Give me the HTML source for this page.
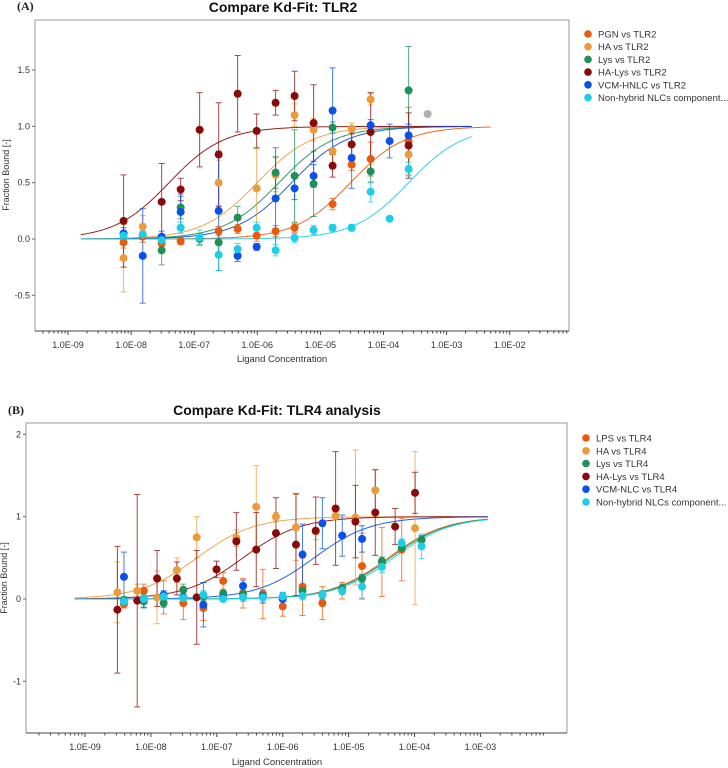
<!DOCTYPE html>
<html><head><meta charset="utf-8">
<style>
body{margin:0;background:#fff;}
svg{display:block;font-family:"Liberation Sans",sans-serif;}
</style></head>
<body>
<svg id="chart" width="728" height="768" viewBox="0 0 728 768" xmlns="http://www.w3.org/2000/svg"></svg>
<script>
// ---------- Panel A data (TLR2) ----------
const concA = [7.6e-9,1.53e-8,3.05e-8,6.1e-8,1.22e-7,2.44e-7,4.88e-7,9.77e-7,1.95e-6,3.9e-6,7.8e-6,1.56e-5,3.13e-5,6.25e-5,1.25e-4,2.5e-4];
const namesA = ["PGN vs TLR2","HA vs TLR2","Lys vs TLR2","HA-Lys vs TLR2","VCM-HNLC vs TLR2","Non-hybrid NLCs component..."];
const kdA = [3e-5,1e-6,2.2e-6,4e-8,3.5e-6,2.5e-4];
const pgnA   = [-0.03,0.02,-0.04,-0.02,null,0.07,0.09,0.03,0.07,0.10,null,0.31,0.66,0.71,null,0.87];
const haA    = [-0.17,0.11,null,null,null,0.50,null,0.45,0.57,1.10,0.97,0.78,0.98,1.24,null,0.75];
const lysA   = [null,null,-0.10,0.28,0.00,-0.03,0.19,null,0.59,0.56,0.49,0.99,null,0.60,null,1.32];
const halysA = [0.16,null,0.33,0.44,0.97,0.75,1.29,0.96,1.21,1.27,1.03,0.65,0.84,0.95,null,0.83];
const vcmA   = [0.05,-0.15,0.02,0.24,null,0.25,-0.15,-0.07,0.36,0.45,0.56,1.14,0.72,1.01,0.87,0.92];
const nonA   = [0.03,0.04,-0.01,0.10,0.01,-0.14,-0.09,0.10,-0.10,0.01,0.08,0.10,0.10,0.42,0.18,0.62];
const errA = [
 [0.05,0.05,0.05,0.03,0,0.04,0.04,0.05,0.05,0.04,0,0.05,0.05,0.15,0,0.3],
 [0.3,0.1,0,0,0,0.2,0,0.35,0.15,0.1,0.1,0.1,0.05,0.05,0,0.1],
 [0,0,0.13,0.1,0.05,0.1,0.1,0,0.14,0.41,0.29,0.05,0,0.1,0,0.39],
 [0.41,0,0.34,0.1,0.33,0.46,0.34,0.15,0.11,0.22,0.34,0.1,0.1,0.35,0,0.29],
 [0.05,0.42,0.05,0.16,0,0.53,0.05,0.03,0.45,0.1,0.1,0.38,0.27,0.05,0.15,0.1],
 [0.03,0.03,0.05,0.05,0.07,0.14,0.05,0.05,0.05,0.04,0.04,0.03,0.03,0.09,0,0.06]
];
const extraPointA = {x:5e-4, y:1.11};
const yTicksA = [1.5,1.0,0.5,0.0,-0.5];
const yTickLabelsA = ["1.5","1.0","0.5","0.0","-0.5"];
const xTicksA = [-9,-8,-7,-6,-5,-4,-3,-2];
const xTickLabelsA = ["1.0E-09","1.0E-08","1.0E-07","1.0E-06","1.0E-05","1.0E-04","1.0E-03","1.0E-02"];

// ---------- Panel B data (TLR4) ----------
const concB1 = [3.1e-9,6.2e-9,1.24e-8,2.48e-8,4.96e-8,9.9e-8,1.98e-7,3.97e-7,7.9e-7,1.59e-6,3.17e-6,6.35e-6,1.27e-5,2.54e-5,5.08e-5,1.02e-4];
const concB2 = [3.9e-9,7.8e-9,1.56e-8,3.1e-8,6.25e-8,1.25e-7,2.5e-7,5e-7,1e-6,2e-6,4e-6,8e-6,1.6e-5,3.2e-5,6.4e-5,1.28e-4];
const namesB = ["LPS vs TLR4","HA vs TLR4","Lys vs TLR4","HA-Lys vs TLR4","VCM-NLC vs TLR4","Non-hybrid NLCs component..."];
const kdB = [4e-5,5e-8,4.3e-5,2.5e-7,3e-6,4.8e-5];
const lpsB   = [-0.06,0.10,0.02,-0.05,-0.11,0.22,0.07,0.06,-0.09,0.15,-0.05,0.10,0.40,0.45,0.60,0.72];
const haB    = [0.08,0.10,0.02,0.35,0.75,null,0.74,1.12,1.00,0.87,0.82,1.01,0.99,1.32,null,0.86];
const lysB   = [-0.02,-0.03,-0.05,0.11,0.03,0.07,0.06,0.04,0.02,0.10,0.05,0.13,0.25,0.46,0.62,0.72];
const halysB = [-0.13,-0.02,0.25,0.25,0.02,0.36,0.70,0.60,0.80,0.66,0.83,1.10,0.94,1.05,0.88,1.29];
const vcmB   = [0.27,0.00,0.05,0.02,-0.07,0.01,0.16,0.03,0.00,0.54,0.92,0.77,0.73,null,null,null];
const nonB   = [-0.03,0.00,0.03,0.01,0.05,0.00,0.02,0.02,0.03,0.04,0.05,0.10,0.15,0.39,0.68,0.64];
const errB = [
 [0.05,0.08,0.2,0.2,0.15,0.1,0.18,0.3,0.12,0.35,0.2,0.1,0.4,0.42,0.38,0.05],
 [0.37,0.08,0.32,0.15,0.25,0,0.1,0.5,0.05,0.4,0.1,0.05,0.82,0.25,0,0.93],
 [0.05,0.08,0.05,0.07,0.05,0.03,0.05,0.05,0.05,0.05,0.05,0.05,0.05,0.05,0.05,0.05],
 [0.77,1.29,0.34,0.2,0.57,0.1,0.35,0.45,0.43,0.62,0.41,0.69,0.44,0.52,0.22,0.25],
 [0.3,0.1,0.05,0.05,0.27,0.02,0.07,0.08,0.08,0.37,0.31,0.25,0.16,0,0,0],
 [0.05,0.05,0.05,0.05,0.05,0.03,0.05,0.05,0.05,0.05,0.05,0.05,0.14,0.07,0.05,0.15]
];
const yTicksB = [2,1,0,-1];
const yTickLabelsB = ["2","1","0","-1"];
const xTicksB = [-9,-8,-7,-6,-5,-4,-3];
const xTickLabelsB = ["1.0E-09","1.0E-08","1.0E-07","1.0E-06","1.0E-05","1.0E-04","1.0E-03"];

const colors = ["#e85a0c","#ec9b3b","#1f9058","#8a0a0a","#0b50e8","#1ecde6"];

const NS = "http://www.w3.org/2000/svg";
const svg = document.getElementById("chart");
function mk(tag, attrs, parent){
  const e = document.createElementNS(NS, tag);
  for (const k in attrs) e.setAttribute(k, attrs[k]);
  (parent||svg).appendChild(e);
  return e;
}

function drawPanel(cfg){
  const g = mk("g", {});
  
  
  const X = v => cfg.x0 + (Math.log10(v) - cfg.xDec0) * cfg.decPx;
  const Y = v => cfg.y0 - v * cfg.unitPx;

  const lab = mk("text", {x:cfg.labX, y:cfg.labY, "font-family":"Liberation Serif, serif", "font-size":"12", "font-weight":"bold", fill:"#222"}, g);
  lab.textContent = cfg.letter;
  
  
  const t = mk("text", {x:cfg.titleX, y:cfg.titleY, "font-size":"14", "font-weight":"bold", "text-anchor":"middle", fill:"#111"}, g);
  t.textContent = cfg.title;
  
  

  const frame = mk("path", {d:`M${cfg.left},${cfg.bottom} V${cfg.top} H${cfg.right} V${cfg.bottom}`, fill:"none", stroke:"#999", "stroke-width":"1"}, g);
  
  
  const xa = mk("line", {x1:cfg.left, x2:cfg.right, y1:cfg.bottom, y2:cfg.bottom, stroke:"#444", "stroke-width":"1"}, g);
  
  

  for (let d = cfg.xTicks[0]-1; d <= cfg.xTicks[cfg.xTicks.length-1]; d++){
    for (let m = 1; m < 10; m++){
      const px = cfg.x0 + (d + Math.log10(m) - cfg.xDec0) * cfg.decPx;
      if (px < cfg.left + 2 || px > cfg.right - 1) continue;
      const tk = mk("line", {x1:px, x2:px, y1:cfg.bottom, y2:cfg.bottom + (m===1?4:2.5), stroke:"#444", "stroke-width":"1"}, g);
      
      
    }
  }
  cfg.xTicks.forEach((d,i)=>{
    const px = cfg.x0 + (d - cfg.xDec0) * cfg.decPx;
    const tl = mk("text", {x:px, y:cfg.bottom+17, "font-size":"9", "text-anchor":"middle", fill:"#333"}, g);
    tl.textContent = cfg.xTickLabels[i];
    
    
  });
  cfg.yTicks.forEach((v,i)=>{
    const py = Y(v);
    const tk = mk("line", {x1:cfg.left-3, x2:cfg.left, y1:py, y2:py, stroke:"#666"}, g);
    
    
    const tl = mk("text", {x:cfg.left-5, y:py+3, "font-size":"9", "text-anchor":"end", fill:"#333"}, g);
    tl.textContent = cfg.yTickLabels[i];
    
    
  });
  const xt = mk("text", {x:cfg.xTitleX, y:cfg.xTitleY, "font-size":"9.5", "text-anchor":"middle", fill:"#333"}, g);
  xt.textContent = "Ligand Concentration";
  
  
  const yt = mk("text", {x:0, y:0, "font-size":"9", "text-anchor":"middle", fill:"#333", transform:`translate(${cfg.yTitleX},${cfg.yTitleY}) rotate(-90)`}, g);
  yt.textContent = "Fraction Bound [-]";
  
  

  cfg.series.forEach((s,si)=>{
    let d = "";
    const l0 = Math.log10(cfg.curveMin), l1 = Math.log10(cfg.curveMax[si]);
    for (let k=0;k<=200;k++){
      const lx = l0 + (l1-l0)*k/200, c = Math.pow(10,lx);
      const f = c/(c+cfg.kd[si]);
      d += (k?"L":"M") + X(c).toFixed(2) + "," + Y(f).toFixed(2);
    }
    const p = mk("path", {d, fill:"none", stroke:colors[si], "stroke-width":"1", opacity:"0.9"}, g);
    
    
  });
  cfg.series.forEach((s,si)=>{
    const conc = cfg.conc[si];
    s.forEach((v,i)=>{
      if (v === null) return;
      const px = X(conc[i]), py = Y(v), e = cfg.err[si][i]*cfg.unitPx;
      if (e > 0){
        const eb = mk("path", {d:`M${px},${py-e}V${py+e}M${px-3},${py-e}H${px+3}M${px-3},${py+e}H${px+3}`, stroke:colors[si], "stroke-width":"1", fill:"none", opacity:"0.75"}, g);
        
        
      }
    });
  });
  cfg.series.forEach((s,si)=>{
    const conc = cfg.conc[si];
    s.forEach((v,i)=>{
      if (v === null) return;
      const c = mk("circle", {cx:X(conc[i]), cy:Y(v), r:4.0, fill:colors[si]}, g);
      
      
    });
  });
  if (cfg.extra){
    const c = mk("circle", {cx:X(cfg.extra.x), cy:Y(cfg.extra.y), r:4.0, fill:"#b0b0b0"}, g);
    
    
  }
  cfg.names.forEach((n,i)=>{
    const ly = cfg.legY + i*cfg.legStep;
    const lg = mk("g", {}, g);
    
    
    mk("circle", {cx:cfg.legX, cy:ly, r:3.8, fill:colors[i]}, lg);
    const tx = mk("text", {x:cfg.legX+10, y:ly+3.5, "font-size":"9.5", fill:"#333"}, lg);
    tx.textContent = n;
  });
}

drawPanel({
  id:"tlr2", letter:"(A)", labX:17, labY:10, title:"Compare Kd-Fit: TLR2", titleX:283, titleY:12,
  left:35, right:569, top:20, bottom:331,
  x0:68, xDec0:-9, decPx:63.1, y0:239, unitPx:112.6,
  xTicks:xTicksA, xTickLabels:xTickLabelsA, yTicks:yTicksA, yTickLabels:yTickLabelsA,
  xTitleX:282, xTitleY:362, yTitleX:9, yTitleY:175,
  series:[pgnA,haA,lysA,halysA,vcmA,nonA], conc:[concA,concA,concA,concA,concA,concA],
  err:errA, kd:kdA, curveMin:1.6e-9, curveMax:[5e-3,2.5e-3,2.5e-3,2.5e-3,2.5e-3,2.5e-3],
  extra:extraPointA, names:namesA, legX:588, legY:34, legStep:12.7
});
drawPanel({
  id:"tlr4", letter:"(B)", labX:8, labY:414, title:"Compare Kd-Fit: TLR4 analysis", titleX:277, titleY:415,
  left:26, right:567, top:423, bottom:733,
  x0:85, xDec0:-9, decPx:65.9, y0:599, unitPx:82.3,
  xTicks:xTicksB, xTickLabels:xTickLabelsB, yTicks:yTicksB, yTickLabels:yTickLabelsB,
  xTitleX:277, xTitleY:765, yTitleX:7, yTitleY:578,
  series:[lpsB,haB,lysB,halysB,vcmB,nonB], conc:[concB2,concB1,concB2,concB1,concB2,concB2],
  err:errB, kd:kdB, curveMin:7e-10, curveMax:[1.3e-3,1.3e-3,1.3e-3,1.3e-3,1.3e-3,1.3e-3],
  extra:null, names:namesB, legX:586, legY:438, legStep:12.8
});
</script>
</body></html>
